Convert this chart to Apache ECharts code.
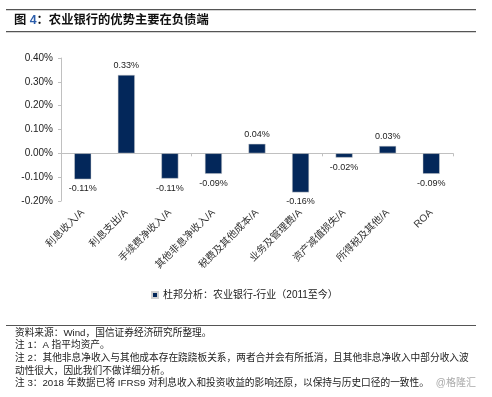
<!DOCTYPE html>
<html>
<head>
<meta charset="utf-8">
<script src="https://cdn.jsdelivr.net/npm/echarts@6/dist/echarts.min.js"></script>
<style>html,body{margin:0;padding:0;background:#fff}#c{width:492px;height:397px}</style>
</head>
<body>
<div id="c"></div>
<script>
var categories = ['利息收入/A','利息支出/A','手续费净收入/A','其他非息净收入/A','税费及其他成本/A','业务及管理费/A','资产减值损失/A','所得税及其他/A','ROA'];
var values = [-0.109, 0.329, -0.106, -0.086, 0.040, -0.164, -0.018, 0.031, -0.086];
var seriesName = '杜邦分析：农业银行-行业（2011至今）';
var yTicks = {min: -0.2, max: 0.4, interval: 0.1};
var notes = [
  '资料来源：Wind，国信证券经济研究所整理。',
  '注 1：A 指平均资产。',
  '注 2：其他非息净收入与其他成本存在跷跷板关系，两者合并会有所抵消，且其他非息净收入中部分收入波',
  '动性很大，因此我们不做详细分析。',
  '注 3：2018 年数据已将 IFRS9 对利息收入和投资收益的影响还原，以保持与历史口径的一致性。'
];
var FONT = "'Liberation Sans','Noto Sans CJK SC',sans-serif";
var chart = echarts.init(document.getElementById('c'), null, {renderer: 'canvas'});
var noteY = [333, 345, 358, 371, 383];
var graphics = [
  {type: 'rect', shape: {x: 6, y: 9, width: 470, height: 1.2}, style: {fill: '#555'}},
  {type: 'rect', shape: {x: 6, y: 31, width: 470, height: 1.2}, style: {fill: '#555'}},
  {type: 'rect', shape: {x: 6, y: 325, width: 470, height: 1}, style: {fill: '#555'}},
  {type: 'text', x: 14, y: 21, style: {
    text: '{a|图 }{b|4}{a|：农业银行的优势主要在负债端}',
    verticalAlign: 'middle',
    rich: {
      a: {fontSize: 12.3, fontWeight: 'bold', fontFamily: FONT, fill: '#111'},
      b: {fontSize: 12.3, fontWeight: 'bold', fontFamily: FONT, fill: '#2a5caa'}
    }
  }},
  {type: 'text', x: 476, y: 383, style: {text: '@格隆汇', fontSize: 10, fontFamily: FONT, fill: '#aaa', align: 'right', verticalAlign: 'middle'}}
];
notes.forEach(function (t, i) {
  graphics.push({type: 'text', x: 15, y: noteY[i], style: {text: t, fontSize: 9.7, fontFamily: FONT, fill: '#222', verticalAlign: 'middle'}});
});
chart.setOption({
  animation: false,
  backgroundColor: '#fff',
  grid: {left: 61, right: 39, top: 58, bottom: 196, containLabel: false},
  legend: {
    data: [seriesName], left: 146, top: 285, itemWidth: 6, itemHeight: 6, itemGap: 3,
    icon: 'rect',
    textStyle: {fontSize: 10, fontFamily: FONT, color: '#222'}
  },
  xAxis: [{
    type: 'category', data: categories, position: 'bottom',
    axisLine: {show: false, onZero: false}, axisTick: {show: false},
    axisLabel: {rotate: 45, fontSize: 10, fontFamily: FONT, color: '#333', margin: 10, interval: 0}
  }, {
    type: 'category', data: categories, position: 'top',
    axisLine: {show: true, onZero: true, lineStyle: {color: '#c0c0c0', width: 1}},
    axisTick: {show: true, inside: true, length: 3, lineStyle: {color: '#c0c0c0'}},
    axisLabel: {show: false}
  }],
  yAxis: {
    type: 'value', min: yTicks.min, max: yTicks.max, interval: yTicks.interval,
    splitLine: {show: false},
    axisLine: {show: true, lineStyle: {color: '#c0c0c0'}},
    axisTick: {show: true, length: 3, lineStyle: {color: '#c0c0c0'}},
    axisLabel: {fontSize: 10, fontFamily: FONT, color: '#222', margin: 8, formatter: function (v) { return v.toFixed(2) + '%'; }}
  },
  series: [{
    name: seriesName, type: 'bar', barWidth: 17, xAxisIndex: 0,
    itemStyle: {color: '#03275a', borderColor: '#d0d0d0', borderWidth: 0.5},
    data: values.map(function (v) {
      return {value: v, label: {position: v < 0 ? 'bottom' : 'top'}};
    }),
    label: {show: true, fontSize: 9, fontFamily: FONT, color: '#222', distance: 5,
      formatter: function (p) { return p.value.toFixed(2) + '%'; }}
  }],
  graphic: graphics
});
</script>
</body>
</html>
